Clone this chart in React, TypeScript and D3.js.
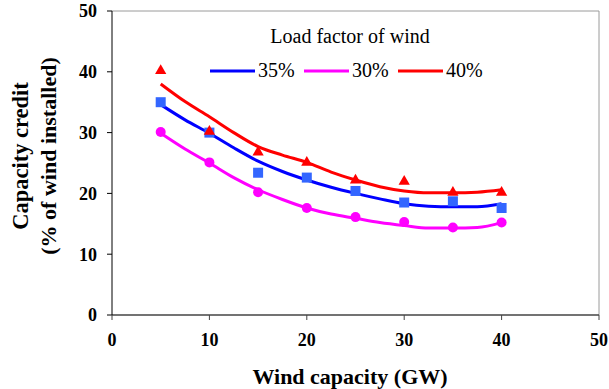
import React from "react";
import * as d3 from "d3";

// wind capacity (GW) where the points were measured
const capacity = [5, 10, 15, 20, 25, 30, 35, 40];
// measured capacity credit (% of wind installed) per load factor
const lf35 = [35.0, 30.0, 23.4, 22.6, 20.4, 18.5, 18.7, 17.6];
const lf30 = [30.1, 25.1, 20.2, 17.6, 16.1, 15.3, 14.4, 15.2];
const lf40 = [40.0, 30.0, 26.6, 24.9, 22.0, 21.8, 20.0, 20.0];

// fitted trend lines, every 2.5 GW
const trendX = [5, 7.5, 10, 12.5, 15, 17.5, 20, 22.5, 25, 27.5, 30, 32.5, 35, 37.5, 40];
const trend35 = [34.6, 32.1, 29.9, 27.5, 25.3, 23.6, 22.2, 21.0, 20.0, 19.1, 18.3, 17.9, 17.8, 17.8, 18.3];
const trend30 = [29.9, 27.3, 25.0, 22.6, 20.6, 19.0, 17.6, 16.6, 15.9, 15.2, 14.7, 14.3, 14.3, 14.4, 15.2];
const trend40 = [38.0, 35.1, 32.6, 30.0, 27.7, 26.3, 25.1, 23.5, 22.2, 21.1, 20.4, 20.1, 20.1, 20.2, 20.6];

const xTicks = [0, 10, 20, 30, 40, 50];
const yTicks = [0, 10, 20, 30, 40, 50];

const legend = [
  { label: "35%", color: "#0000ff" },
  { label: "30%", color: "#ff00ff" },
  { label: "40%", color: "#ff0000" },
];

export default function App() {
  const width = 609;
  const height = 389;
  const x = d3.scaleLinear().domain([0, 50]).range([112, 599]);
  const y = d3.scaleLinear().domain([0, 50]).range([315, 11]);

  const line = d3
    .line<number>()
    .x((_, i) => x(trendX[i]))
    .y((d) => y(d))
    .curve(d3.curveMonotoneX);

  const tri = d3.symbol().type(d3.symbolTriangle).size(55)()!;

  return (
    <svg
      width={width}
      height={height}
      style={{ position: "absolute", left: 0, top: 0, background: "#fff" }}
      fontFamily="Liberation Serif, Times New Roman, serif"
    >
      {/* plot frame */}
      <path d={`M${x(0)},${y(50)}H${x(50)}V${y(0)}`} fill="none" stroke="#9a9a9a" strokeWidth={1} />
      <line x1={x(0)} x2={x(50)} y1={y(0)} y2={y(0)} stroke="#444" strokeWidth={1.5} />
      <line x1={x(0)} x2={x(0)} y1={y(0)} y2={y(50)} stroke="#000" strokeWidth={1} />

      {/* y axis */}
      {yTicks.map((t) => (
        <g key={"y" + t}>
          <line x1={x(0) - 5} x2={x(0)} y1={y(t)} y2={y(t)} stroke="#000" />
          <text x={97} y={y(t)} dy="0.35em" textAnchor="end" fontSize={18} fontWeight="bold">
            {t}
          </text>
        </g>
      ))}

      {/* x axis */}
      {xTicks.map((t) => (
        <g key={"x" + t}>
          <line x1={x(t)} x2={x(t)} y1={y(0)} y2={y(0) + 5} stroke="#444" />
          <text x={x(t)} y={346} textAnchor="middle" fontSize={18} fontWeight="bold">
            {t}
          </text>
        </g>
      ))}

      <text x={350} y={384} textAnchor="middle" fontSize={22} fontWeight="bold">
        Wind capacity (GW)
      </text>
      <text transform="translate(28,156) rotate(-90)" textAnchor="middle" fontSize={22.5} fontWeight="bold">
        Capacity credit
      </text>
      <text transform="translate(56,156) rotate(-90)" textAnchor="middle" fontSize={22} fontWeight="bold">
        (% of wind installed)
      </text>

      {/* trend lines */}
      <path d={line(trend40)!} fill="none" stroke="#ff0000" strokeWidth={3} />
      <path d={line(trend35)!} fill="none" stroke="#0000ff" strokeWidth={3} />
      <path d={line(trend30)!} fill="none" stroke="#ff00ff" strokeWidth={3} />

      {/* markers */}
      {capacity.map((c, i) => (
        <g key={"m" + c}>
          <rect x={x(c) - 5} y={y(lf35[i]) - 5} width={10} height={10} fill="#3366ff" />
          <circle cx={x(c)} cy={y(lf30[i])} r={5} fill="#ff00ff" />
          <path d={tri} transform={`translate(${x(c)},${y(lf40[i]) - 1})`} fill="#ff0000" />
        </g>
      ))}

      {/* legend */}
      <text x={350} y={43} textAnchor="middle" fontSize={20}>
        Load factor of wind
      </text>
      {legend.map((l, i) => {
        const lx = 210 + i * 94;
        return (
          <g key={l.label}>
            <line x1={lx} x2={lx + 45} y1={71} y2={71} stroke={l.color} strokeWidth={3} />
            <text x={lx + 48} y={77} fontSize={20}>
              {l.label}
            </text>
          </g>
        );
      })}
    </svg>
  );
}
